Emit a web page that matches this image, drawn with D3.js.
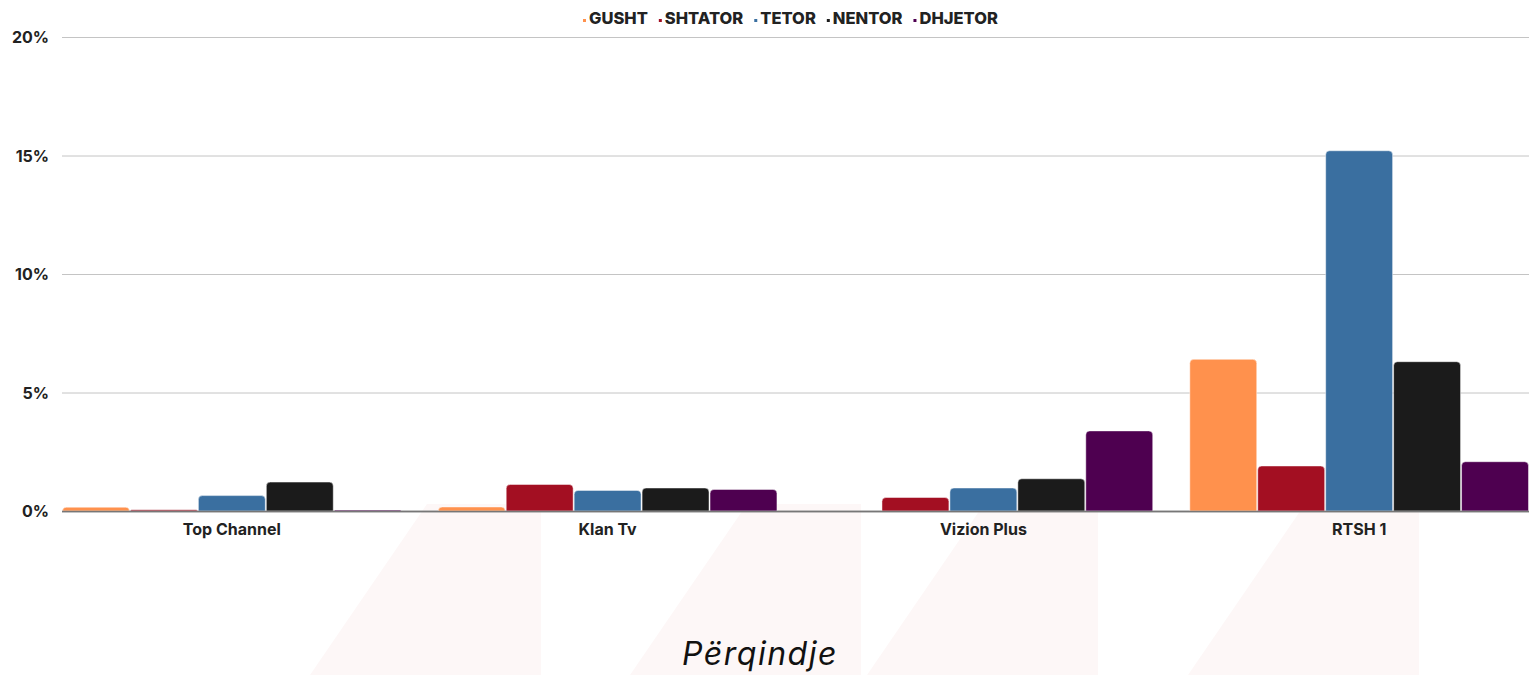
<!DOCTYPE html>
<html>
<head>
<meta charset="utf-8">
<script src="https://cdn.jsdelivr.net/npm/d3@7"></script>
<style>
body { margin: 0; background: #fff; }
svg { display: block; }
text { font-family: "Inter", "Open Sans", sans-serif; }
</style>
</head>
<body>
<div id="chart"></div>
<script>
var w = 1531;
var h = 675;

var channels = ["Top Channel", "Klan Tv", "Vizion Plus", "RTSH 1"];
var months = ["GUSHT", "SHTATOR", "TETOR", "NENTOR", "DHJETOR"];
var colors = ["#ff914d", "#a30f22", "#3a6fa0", "#1b1b1b", "#4e0050"];

var gusht   = [0.16, 0.17, 0,    6.4];
var shtator = [0.05, 1.12, 0.57, 1.9];
var tetor   = [0.65, 0.87, 0.97, 15.2];
var nentor  = [1.22, 0.97, 1.36, 6.3];
var dhjetor = [0.04, 0.91, 3.38, 2.08];

var yTicks = [0, 5, 10, 15, 20];

var series = [gusht, shtator, tetor, nentor, dhjetor];

var margin = {top: 37, right: 2, bottom: 164, left: 62};

var svg = d3.select("#chart")
			.append("svg")
			.attr("width", w)
			.attr("height", h);

// faint background slashes
var slashes = [310, 630, 867, 1188];
svg.selectAll("polygon.bg")
   .data(slashes)
   .enter()
   .append("polygon")
   .attr("class", "bg")
   .attr("fill", "#fdf7f7")
   .attr("points", function(d) {
   	return [[d, h], [d + 117, 504], [d + 231, 504], [d + 231, h]].join(" ");
   });

var x0 = d3.scaleBand()
		   .domain(channels)
		   .range([margin.left, w - margin.right])
		   .paddingInner(0.096)
		   .paddingOuter(0);

var x1 = d3.scaleBand()
		   .domain(months)
		   .range([0, x0.bandwidth()]);

var y = d3.scaleLinear()
		  .domain([0, 20])
		  .range([h - margin.bottom, margin.top]);

// gridlines
svg.selectAll("line.grid")
   .data(yTicks)
   .enter()
   .append("line")
   .attr("x1", margin.left)
   .attr("x2", w - margin.right)
   .attr("y1", function(d) { return y(d) + 0.5; })
   .attr("y2", function(d) { return y(d) + 0.5; })
   .attr("stroke", function(d) { return d === 0 ? "#777" : "#c4c4c4"; })
   .attr("stroke-width", function(d) { return d === 0 ? 1.5 : 1; });

svg.selectAll("text.ytick")
   .data(yTicks)
   .enter()
   .append("text")
   .attr("x", 49)
   .attr("y", function(d) { return y(d) + 6; })
   .attr("text-anchor", "end")
   .attr("font-size", 16)
   .attr("font-weight", 700)
   .attr("fill", "#222")
   .text(function(d) { return d + "%"; });

function topRounded(x, yTop, bw, bh, r) {
	r = Math.min(r, bh, bw / 2);
	return "M" + x + "," + (yTop + bh) +
		"V" + (yTop + r) +
		"Q" + x + "," + yTop + " " + (x + r) + "," + yTop +
		"H" + (x + bw - r) +
		"Q" + (x + bw) + "," + yTop + " " + (x + bw) + "," + (yTop + r) +
		"V" + (yTop + bh) + "Z";
}

var groups = svg.selectAll("g.group")
	.data(channels)
	.enter()
	.append("g")
	.attr("transform", function(d) { return "translate(" + x0(d) + ",0)"; });

groups.selectAll("path")
	.data(function(c, ci) {
		return months.map(function(m, mi) { return {m: m, i: mi, v: series[mi][ci]}; });
	})
	.enter()
	.append("path")
	.filter(function(d) { return d.v > 0; })
	.attr("d", function(d) {
		var yt = y(d.v);
		var bh = y(0) - yt;
		return topRounded(x1(d.m) + 0.5, yt, x1.bandwidth() - 1, bh, 4);
	})
	.attr("fill", function(d) { return colors[d.i]; })
	.attr("stroke", "#ffffff")
	.attr("stroke-opacity", 0.6)
	.attr("stroke-width", 0.8);

// redraw baseline on top
svg.append("line")
   .attr("x1", margin.left)
   .attr("x2", w - margin.right)
   .attr("y1", y(0) + 0.5)
   .attr("y2", y(0) + 0.5)
   .attr("stroke", "#777")
   .attr("stroke-width", 1.5);

svg.selectAll("text.cat")
   .data(channels)
   .enter()
   .append("text")
   .attr("x", function(d) { return x0(d) + x0.bandwidth() / 2; })
   .attr("y", 535)
   .attr("text-anchor", "middle")
   .attr("font-size", 16)
   .attr("font-weight", 700)
   .attr("fill", "#222")
   .text(function(d) { return d; });

// legend
var legend = svg.append("g");
var lx = 583;
months.forEach(function(m, i) {
	legend.append("rect")
		.attr("x", lx)
		.attr("y", 19)
		.attr("width", 3)
		.attr("height", 3)
		.attr("fill", colors[i]);
	var t = legend.append("text")
		.attr("x", lx + 6)
		.attr("y", 24)
		.attr("font-size", 16.5)
		.attr("font-weight", 800)
		.attr("fill", "#222")
		.text(m);
	lx += 6 + t.node().getComputedTextLength() + 11;
});

svg.append("text")
   .attr("x", 760)
   .attr("y", 665)
   .attr("text-anchor", "middle")
   .attr("font-size", 32)
   .attr("letter-spacing", 1.5)
   .attr("font-style", "italic")
   .attr("font-family", "Open Sans, sans-serif")
   .attr("fill", "#111")
   .text("Përqindje");
</script>
</body>
</html>
